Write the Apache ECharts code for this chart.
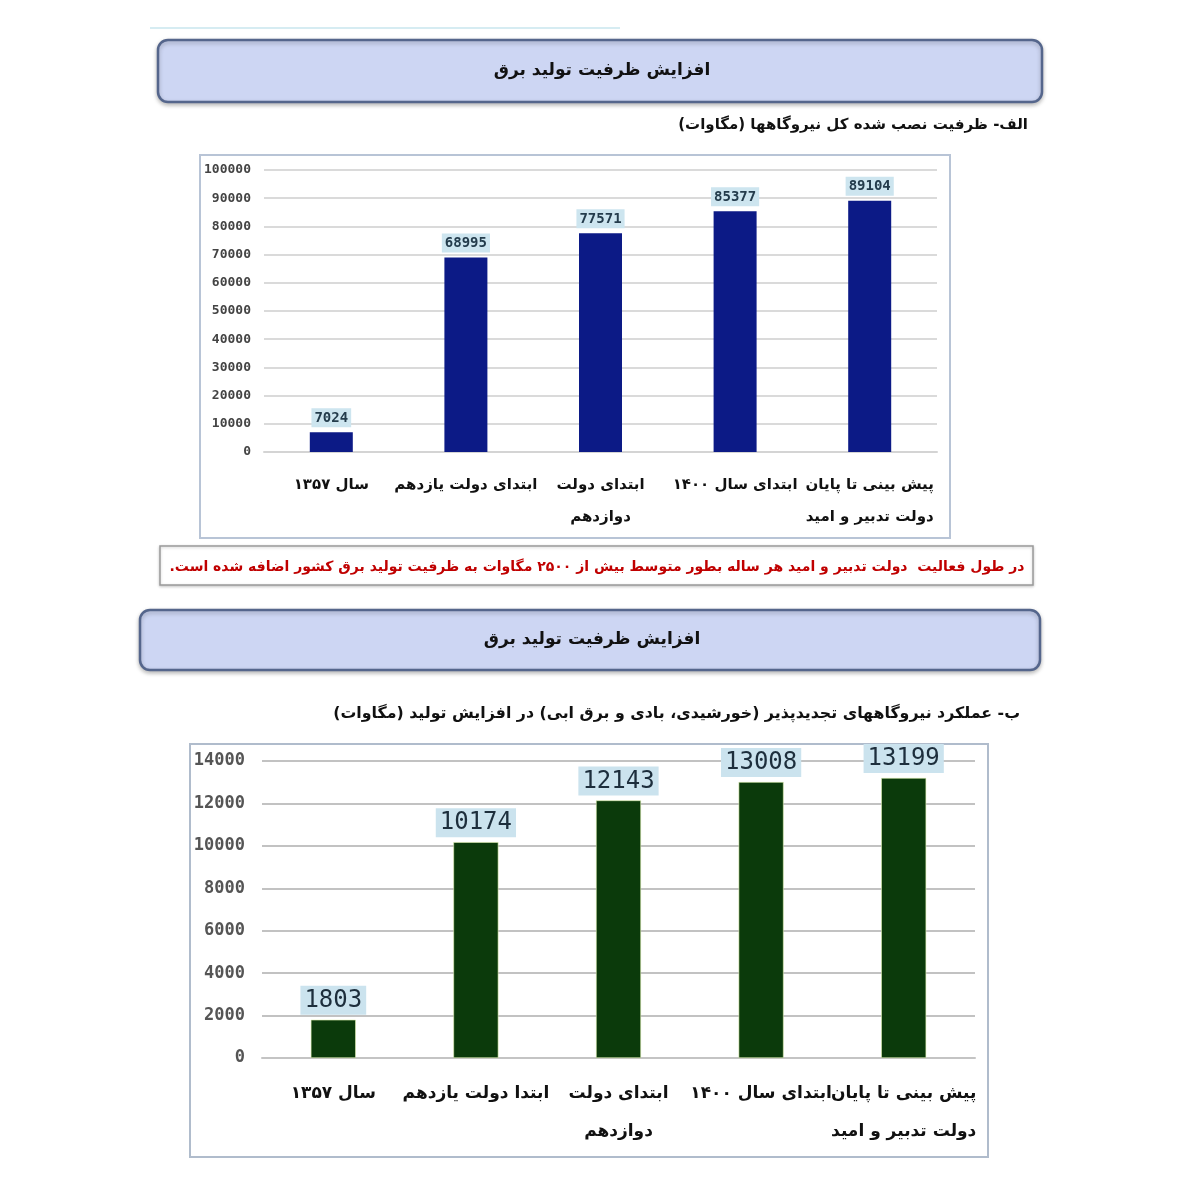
<!DOCTYPE html>
<html>
<head>
<meta charset="utf-8">
<script src="https://cdn.jsdelivr.net/npm/echarts@6/dist/echarts.min.js"></script>
<style>
  html, body { margin: 0; padding: 0; background: #fff; }
  #chart { width: 1200px; height: 1200px; }
</style>
</head>
<body>
<div id="chart" dir="rtl"></div>
<script>
// data
const categoriesA = ['سال ۱۳۵۷', 'ابتدای دولت یازدهم', 'ابتدای دولت\nدوازدهم', 'ابتدای سال ۱۴۰۰', 'پیش بینی تا پایان\nدولت تدبیر و امید'];
const capacityA = [7024, 68995, 77571, 85377, 89104];

const categoriesB = ['سال ۱۳۵۷', 'ابتدا دولت یازدهم', 'ابتدای دولت\nدوازدهم', 'ابتدای سال ۱۴۰۰', 'پیش بینی تا پایان\nدولت تدبیر و امید'];
const renewablesB = [1803, 10174, 12143, 13008, 13199];

const headerTitle = 'افزایش ظرفیت تولید برق';
const subtitleA = 'الف- ظرفیت نصب شده کل نیروگاهها (مگاوات)';
const subtitleB = 'ب- عملکرد نیروگاههای تجدیدپذیر (خورشیدی، بادی و برق ابی) در افزایش تولید (مگاوات)';
const noteText = 'در طول فعالیت  دولت تدبیر و امید هر ساله بطور متوسط بیش از ۲۵۰۰ مگاوات به ظرفیت تولید برق کشور اضافه شده است.';

const faFont = 'DejaVu Sans';
const monoFont = 'DejaVu Sans Mono';

const myChart = echarts.init(document.getElementById('chart'));

function headerBox(x, y, w, h, tx, ty) {
  return [
    {
      type: 'rect',
      shape: { x: x, y: y, width: w, height: h, r: 10 },
      style: { fill: '#cdd6f3', stroke: '#55668c', lineWidth: 2.5,
        shadowBlur: 4, shadowColor: 'rgba(0,0,0,0.25)', shadowOffsetY: 2 },
      z: 1
    },
    {
      type: 'text',
      style: { text: headerTitle, x: tx, y: ty, textAlign: 'center', textVerticalAlign: 'middle',
        fontFamily: faFont, fontWeight: 'bold', fontSize: 17, fill: '#111' },
      z: 2
    }
  ];
}

const plainNumber = v => String(v);

const option = {
  backgroundColor: '#fff',
  animation: false,
  graphic: [
    { type: 'line', shape: { x1: 150, y1: 28, x2: 620, y2: 28 }, style: { stroke: '#d6ecf2', lineWidth: 2 } },
    ...headerBox(158, 40, 884, 62, 602, 71),
    {
      type: 'text',
      style: { text: subtitleA, x: 1028, y: 125, textAlign: 'right', textVerticalAlign: 'middle',
        fontFamily: faFont, fontWeight: 'bold', fontSize: 15, fill: '#111' }
    },
    {
      type: 'rect',
      shape: { x: 200, y: 155, width: 750, height: 383 },
      style: { fill: 'none', stroke: '#b8c4d6', lineWidth: 2 }
    },
    {
      type: 'rect',
      shape: { x: 160, y: 546, width: 873, height: 39 },
      style: { fill: '#fff', stroke: '#9a9a9a', lineWidth: 1.5,
        shadowBlur: 3, shadowColor: 'rgba(0,0,0,0.2)', shadowOffsetY: 1 }
    },
    {
      type: 'text',
      style: { text: noteText, x: 597, y: 567, textAlign: 'center', textVerticalAlign: 'middle',
        fontFamily: faFont, fontWeight: 'bold', fontSize: 14, fill: '#c00000' }
    },
    ...headerBox(140, 610, 900, 60, 592, 640),
    {
      type: 'text',
      style: { text: subtitleB, x: 1020, y: 714, textAlign: 'right', textVerticalAlign: 'middle',
        fontFamily: faFont, fontWeight: 'bold', fontSize: 15.8, fill: '#111' }
    },
    {
      type: 'rect',
      shape: { x: 190, y: 744, width: 798, height: 413 },
      style: { fill: 'none', stroke: '#b0bccc', lineWidth: 2 }
    }
  ],
  grid: [
    { left: 264, right: 263, top: 170, height: 282 },
    { left: 262, right: 225, top: 761, height: 297 }
  ],
  xAxis: [
    {
      gridIndex: 0,
      type: 'category',
      data: categoriesA,
      axisLine: { lineStyle: { color: '#d4d4d4', width: 2 } },
      axisTick: { show: false },
      axisLabel: { interval: 0, margin: 17, fontFamily: faFont, fontWeight: 'bold', fontSize: 15,
        color: '#111', lineHeight: 32 }
    },
    {
      gridIndex: 1,
      type: 'category',
      data: categoriesB,
      axisLine: { lineStyle: { color: '#c4c4c4', width: 2 } },
      axisTick: { show: false },
      axisLabel: { interval: 0, margin: 17, fontFamily: faFont, fontWeight: 'bold', fontSize: 17,
        color: '#111', lineHeight: 38 }
    }
  ],
  yAxis: [
    {
      gridIndex: 0,
      type: 'value',
      min: 0,
      max: 100000,
      interval: 10000,
      axisLine: { show: false },
      axisTick: { show: false },
      splitLine: { lineStyle: { color: '#dadada', width: 2 } },
      axisLabel: { margin: 13, formatter: plainNumber, fontFamily: monoFont, fontWeight: 'bold', fontSize: 13, color: '#444' }
    },
    {
      gridIndex: 1,
      type: 'value',
      min: 0,
      max: 14000,
      interval: 2000,
      axisLine: { show: false },
      axisTick: { show: false },
      splitLine: { lineStyle: { color: '#c2c2c2', width: 2 } },
      axisLabel: { margin: 17, formatter: plainNumber, fontFamily: monoFont, fontWeight: 'bold', fontSize: 17, color: '#555' }
    }
  ],
  series: [
    {
      type: 'bar',
      xAxisIndex: 0,
      yAxisIndex: 0,
      data: capacityA,
      barWidth: 43,
      itemStyle: { color: '#0c1a86' },
      label: {
        show: true,
        position: 'top',
        distance: 5,
        fontFamily: monoFont,
        fontWeight: 'bold',
        fontSize: 14,
        color: '#243c4c',
        backgroundColor: '#cde5ef',
        padding: [3, 3, 2, 3]
      }
    },
    {
      type: 'bar',
      xAxisIndex: 1,
      yAxisIndex: 1,
      data: renewablesB,
      barWidth: 45,
      itemStyle: { color: '#0b3a0b', borderColor: '#dff0b0', borderWidth: 0.6 },
      label: {
        show: true,
        position: 'top',
        distance: 5,
        fontFamily: monoFont,
        fontSize: 24,
        color: '#1d2e3c',
        backgroundColor: '#cbe3ee',
        padding: [3, 4, 2, 4]
      }
    }
  ]
};

option && myChart.setOption(option);
</script>
</body>
</html>
